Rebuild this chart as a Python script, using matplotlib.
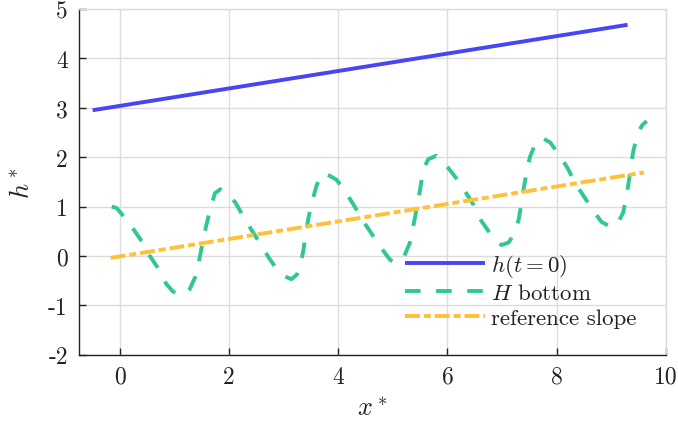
import matplotlib
matplotlib.use("Agg")
import matplotlib.pyplot as plt
import numpy as np

# ---- data ----
h_x = [-0.5, 9.3]
h_y = [2.95, 4.68]

ref_x = [-0.17, 9.6]
ref_y = [-0.04, 1.69]

H_x = [-0.15, -0.06, 0.03, 0.23, 0.41, 0.54, 0.72, 0.85, 0.97, 1.08, 1.20, 1.28,
       1.40, 1.51, 1.58, 1.65, 1.74, 1.84, 1.95, 2.11, 2.27, 2.42, 2.58, 2.73,
       2.90, 3.03, 3.14, 3.24, 3.30, 3.36, 3.45, 3.51, 3.60, 3.69, 3.80, 3.97,
       4.12, 4.30, 4.43, 4.61, 4.76, 4.95, 5.07, 5.19, 5.31, 5.37, 5.43, 5.48,
       5.56, 5.65, 5.80, 5.98, 6.20, 6.35, 6.47, 6.62, 6.81, 6.99, 7.12, 7.20,
       7.30, 7.36, 7.40, 7.45, 7.51, 7.63, 7.75, 7.88, 8.06, 8.21, 8.33, 8.49,
       8.67, 8.82, 8.97, 9.10, 9.22, 9.28, 9.34, 9.40, 9.49, 9.57, 9.65]
H_y = [1.00, 0.97, 0.85, 0.57, 0.28, 0.01, -0.28, -0.57, -0.72, -0.79, -0.76, -0.67,
       -0.38, 0.24, 0.61, 0.92, 1.27, 1.35, 1.26, 1.09, 0.78, 0.51, 0.23, -0.04,
       -0.31, -0.42, -0.47, -0.38, -0.23, 0.11, 0.75, 1.05, 1.42, 1.66, 1.65, 1.54,
       1.32, 1.00, 0.75, 0.45, 0.20, -0.08, -0.14, -0.05, 0.26, 0.58, 0.92, 1.22,
       1.76, 1.96, 2.03, 1.83, 1.52, 1.26, 1.05, 0.71, 0.41, 0.22, 0.27, 0.41,
       0.71, 1.09, 1.39, 1.69, 2.00, 2.33, 2.38, 2.30, 2.03, 1.76, 1.49, 1.22,
       0.92, 0.69, 0.60, 0.62, 0.88, 1.22, 1.63, 2.10, 2.50, 2.65, 2.73]

x_ticks = [0, 2, 4, 6, 8, 10]
x_ticklabels = ["0", "2", "4", "6", "8", "10"]
y_ticks = [-2, -1, 0, 1, 2, 3, 4, 5]
y_ticklabels = ["-2", "-1", "0", "1", "2", "3", "4", "5"]

labels = [r"$h(t=0)$", r"$H$ bottom", "reference slope"]

# ---- style ----
plt.rcParams["font.family"] = ["cmr10", "DejaVu Serif"]
plt.rcParams["mathtext.fontset"] = "cm"
plt.rcParams["axes.unicode_minus"] = False

c_blue = "#4646F2"
c_green = "#2FC88E"
c_orange = "#FFC03A"

fig = plt.figure(figsize=(6.78, 4.27), dpi=100)
ax = fig.add_axes([0.1165, 0.167, 0.982 - 0.1165, 0.9766 - 0.167])

lw = 2.8
ax.plot(h_x, h_y, color=c_blue, lw=lw, solid_capstyle="butt", label=labels[0])
ax.plot(H_x, H_y, color=c_green, lw=lw, linestyle=(0, (4.0, 4.0)), label=labels[1])
ax.plot(ref_x, ref_y, color=c_orange, lw=lw, linestyle=(0, (3.85, 1.0, 1.8, 1.0)),
        label=labels[2])

ax.set_xlim(-0.75, 10)
ax.set_ylim(-2, 5)
ax.set_xticks(x_ticks)
ax.set_xticklabels(x_ticklabels)
ax.set_yticks(y_ticks)
ax.set_yticklabels(y_ticklabels)

ax.grid(True, color="#dcdcdc", lw=1.0)
ax.set_axisbelow(True)
for s in ["top", "right"]:
    ax.spines[s].set_color("#dcdcdc")
    ax.spines[s].set_linewidth(1.0)
for s in ["left", "bottom"]:
    ax.spines[s].set_color("#222222")
    ax.spines[s].set_linewidth(1.0)

ax.tick_params(axis="both", which="both", direction="in", length=5, width=1.0,
               labelsize=17, colors="#222222", top=False, right=False, pad=8)

ax.set_xlabel(r"$x^*$", fontsize=19, color="#222222", labelpad=6)
ax.set_ylabel(r"$h^*$", fontsize=19, color="#222222", labelpad=10)

leg = ax.legend(loc="upper left", bbox_to_anchor=(0.555, 0.298), frameon=False,
                fontsize=16.5, handlelength=3.5, handletextpad=0.27,
                labelspacing=0.2, borderpad=0, borderaxespad=0)
for t in leg.get_texts():
    t.set_color("#222222")

fig.savefig("out.png", dpi=100)
